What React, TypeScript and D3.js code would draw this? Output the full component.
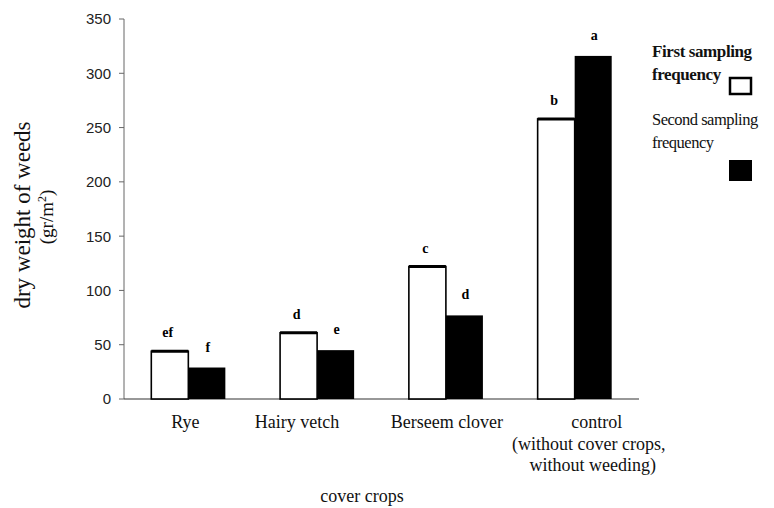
import React from "react";
import * as d3 from "d3";

const categories = ["Rye", "Hairy vetch", "Berseem clover", "control"];
const firstSampling = [44, 61, 122, 258];
const secondSampling = [29, 45, 77, 316];
const firstLetters = ["ef", "d", "c", "b"];
const secondLetters = ["f", "e", "d", "a"];
const yTicks = [0, 50, 100, 150, 200, 250, 300, 350];
const seriesKeys = ["first", "second"];

// horizontal nudge of the category labels, as they sit in the original
const labelShift: Record<string, number> = { Rye: -3, "Hairy vetch": -20, "Berseem clover": 1, control: 22 };

const App = () => {
  const width = 774;
  const height = 508;
  const left = 124;
  const right = 639;
  const top = 19;
  const bottom = 399;

  const x = d3.scaleBand().domain(categories).range([left, right]).paddingInner(0.425).paddingOuter(0.212);
  const xs = d3.scaleBand().domain(seriesKeys).range([0, x.bandwidth()]);
  const y = d3.scaleLinear().domain([0, 350]).range([bottom, top]);

  const serif = "Liberation Serif, DejaVu Serif, serif";
  const sans = "Liberation Sans, Arial, sans-serif";
  const ctrlX = (x("control") as number) + x.bandwidth() / 2 + labelShift.control;

  return (
    <svg width={width} height={height} style={{ position: "absolute", left: 0, top: 0, background: "#fff" }}>
      {/* axes */}
      <line x1={left} x2={left} y1={top} y2={bottom} stroke="#666" strokeWidth={1} />
      <line x1={left} x2={right} y1={bottom} y2={bottom} stroke="#333" strokeWidth={1.2} />
      {yTicks.map((t) => (
        <g key={t}>
          <line x1={left - 5} x2={left} y1={y(t)} y2={y(t)} stroke="#666" />
          <text x={left - 13} y={y(t)} dy="0.36em" textAnchor="end" fontFamily={sans} fontSize={15} fill="#222">
            {t}
          </text>
        </g>
      ))}

      {/* bars */}
      {categories.map((c, i) => {
        const x0 = x(c) as number;
        const xa = x0 + (xs("first") as number);
        const xb = x0 + (xs("second") as number);
        const w = xs.bandwidth();
        return (
          <g key={c}>
            <rect x={xa} y={y(firstSampling[i])} width={w} height={bottom - y(firstSampling[i])} fill="#fff" stroke="#000" strokeWidth={1.6} />
            <line x1={xa} x2={xa + w} y1={y(firstSampling[i])} y2={y(firstSampling[i])} stroke="#000" strokeWidth={3} />
            <rect x={xb} y={y(secondSampling[i])} width={w} height={bottom - y(secondSampling[i])} fill="#000" />
            <text x={xa + w / 2 - 2} y={y(firstSampling[i]) - 14} textAnchor="middle" fontFamily={serif} fontWeight="bold" fontSize={14}>
              {firstLetters[i]}
            </text>
            <text x={xb + w / 2 + 1} y={y(secondSampling[i]) - 16} textAnchor="middle" fontFamily={serif} fontWeight="bold" fontSize={14}>
              {secondLetters[i]}
            </text>
          </g>
        );
      })}

      {/* category labels */}
      {categories.map((c) => (
        <text key={c} x={(x(c) as number) + x.bandwidth() / 2 + labelShift[c]} y={428} textAnchor="middle" fontFamily={serif} fontSize={18} fill="#111">
          {c}
        </text>
      ))}
      <text x={ctrlX - 8} y={450} textAnchor="middle" fontFamily={serif} fontSize={18} fill="#111">
        (without cover crops,
      </text>
      <text x={ctrlX - 4} y={471} textAnchor="middle" fontFamily={serif} fontSize={18} fill="#111">
        without weeding)
      </text>

      {/* x title */}
      <text x={362} y={502} textAnchor="middle" fontFamily={serif} fontSize={18} fill="#111">
        cover crops
      </text>

      {/* y title */}
      <text transform="translate(30,215) rotate(-90)" textAnchor="middle" fontFamily={serif} fontSize={23} fill="#111">
        dry weight of weeds
      </text>
      <text transform="translate(53,217) rotate(-90)" textAnchor="middle" fontFamily={serif} fontSize={19} fill="#111">
        (gr/m<tspan baselineShift="super" fontSize={12}>2</tspan>)
      </text>

      {/* legend */}
      <text x={652} y={57} fontFamily={serif} fontSize={17} fontWeight="bold" letterSpacing={-0.4} fill="#111">
        First sampling
      </text>
      <text x={652} y={80} fontFamily={serif} fontSize={17} fontWeight="bold" letterSpacing={-0.4} fill="#111">
        frequency
      </text>
      <rect x={730} y={78} width={21} height={16} fill="#fff" stroke="#000" strokeWidth={2.5} />
      <text x={652} y={125} fontFamily={serif} fontSize={16.5} letterSpacing={-0.5} fill="#111">
        Second sampling
      </text>
      <text x={652} y={148} fontFamily={serif} fontSize={16.5} letterSpacing={-0.5} fill="#111">
        frequency
      </text>
      <rect x={729} y={160} width={23} height={21} fill="#000" />
    </svg>
  );
};

export default App;
